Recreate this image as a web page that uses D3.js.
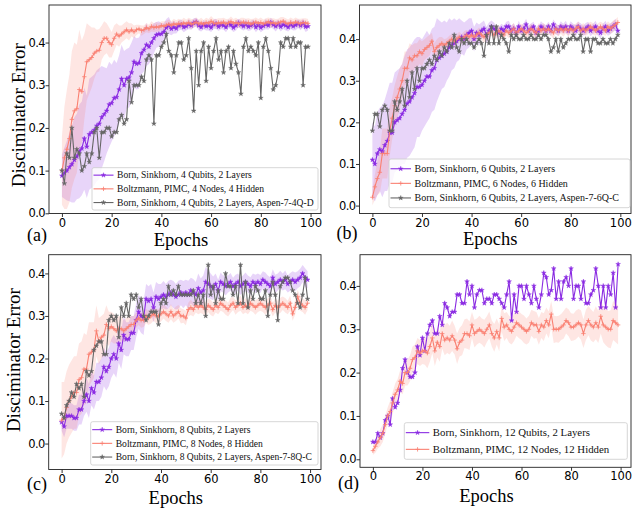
<!DOCTYPE html>
<html lang="en">
<head>
  <meta charset="UTF-8">
  <title>Discriminator error vs epochs</title>
  <style>
    body { margin: 0; background: #fff; }
    svg { display: block; }
  </style>
</head>
<body>

  <svg id="svg" width="632" height="510"></svg>

  <script src="https://d3js.org/d3.v7.min.js"></script>
  <script>
    // ---------------- data ----------------
    const xTicks = [0, 20, 40, 60, 80, 100]
    const yTicks = [0.0, 0.1, 0.2, 0.3, 0.4]

    const legendA = ['Born, Sinkhorn, 4 Qubits, 2 Layers', 'Boltzmann, PIMC, 4 Nodes, 4 Hidden', 'Born, Sinkhorn, 4 Qubits, 2 Layers, Aspen-7-4Q-D']
    const legendB = ['Born, Sinkhorn, 6 Qubits, 2 Layers', 'Boltzmann, PIMC, 6 Nodes, 6 Hidden', 'Born, Sinkhorn, 6 Qubits, 2 Layers, Aspen-7-6Q-C']
    const legendC = ['Born, Sinkhorn, 8 Qubits, 2 Layers', 'Boltzmann, PIMC, 8 Nodes, 8 Hidden', 'Born, Sinkhorn, 8 Qubits, 2 Layers, Aspen-7-8Q-C']
    const legendD = ['Born, Sinkhorn, 12 Qubits, 2 Layers', 'Boltzmann, PIMC, 12 Nodes, 12 Hidden']

    // panel (a)
    const bornA = [
      0.088,0.094,0.100,0.108,0.115,0.125,0.133,0.145,0.152,0.175,
      0.156,0.185,0.190,0.195,0.205,0.210,0.225,0.232,0.240,0.255,
      0.258,0.270,0.272,0.290,0.315,0.300,0.315,0.318,0.330,0.355,
      0.350,0.352,0.375,0.383,0.395,0.390,0.400,0.410,0.418,0.420,
      0.420,0.425,0.435,0.440,0.432,0.436,0.433,0.440,0.442,0.436,
      0.438,0.443,0.440,0.446,0.448,0.440,0.436,0.442,0.438,0.440,
      0.435,0.443,0.444,0.437,0.442,0.440,0.436,0.444,0.441,0.435,
      0.440,0.446,0.442,0.438,0.443,0.437,0.440,0.444,0.436,0.441,
      0.435,0.439,0.443,0.440,0.447,0.442,0.438,0.444,0.437,0.442,
      0.440,0.436,0.443,0.438,0.441,0.444,0.440,0.445,0.437,0.438]
    const bornSpreadA = [
      0.05,0.06,0.07,0.08,0.09,0.10,0.10,0.11,0.11,0.12,
      0.12,0.13,0.13,0.13,0.13,0.13,0.12,0.11,0.10,0.10,
      0.09,0.09,0.08,0.08,0.08,0.08,0.07,0.07,0.07,0.06,
      0.06,0.06,0.05,0.05,0.05,0.04,0.04,0.035,0.03,0.03,
      0.025,0.02,0.02,0.02,0.015,0.015,0.012,0.012,0.012,0.012,
      0.010,0.012,0.010,0.011,0.010,0.012,0.010,0.011,0.010,0.012,
      0.010,0.011,0.012,0.010,0.011,0.010,0.012,0.010,0.011,0.010,
      0.012,0.010,0.011,0.010,0.012,0.010,0.011,0.010,0.012,0.010,
      0.011,0.010,0.012,0.010,0.011,0.010,0.012,0.010,0.011,0.010,
      0.012,0.010,0.011,0.010,0.012,0.010,0.011,0.010,0.012,0.010]
    const boltzA = [
      0.100,0.130,0.150,0.175,0.220,0.240,0.245,0.290,0.285,0.320,
      0.355,0.360,0.365,0.375,0.380,0.382,0.400,0.410,0.410,0.400,
      0.395,0.410,0.420,0.415,0.420,0.425,0.430,0.425,0.430,0.425,
      0.430,0.432,0.428,0.430,0.435,0.432,0.438,0.435,0.437,0.436,
      0.440,0.438,0.441,0.443,0.440,0.444,0.442,0.445,0.443,0.446,
      0.444,0.447,0.443,0.445,0.448,0.444,0.446,0.443,0.447,0.445,
      0.450,0.446,0.444,0.447,0.445,0.448,0.444,0.446,0.449,0.445,
      0.447,0.444,0.446,0.448,0.445,0.447,0.443,0.446,0.448,0.445,
      0.447,0.444,0.446,0.449,0.445,0.447,0.444,0.446,0.448,0.450,
      0.446,0.444,0.447,0.445,0.448,0.446,0.444,0.447,0.446,0.445]
    const boltzSpreadA = [
      0.08,0.12,0.14,0.15,0.16,0.16,0.15,0.14,0.12,0.10,
      0.09,0.08,0.07,0.06,0.05,0.05,0.04,0.04,0.035,0.035,
      0.03,0.03,0.025,0.025,0.02,0.02,0.02,0.02,0.015,0.015,
      0.012,0.010,0.012,0.010,0.011,0.010,0.012,0.010,0.011,0.010,
      0.010,0.012,0.010,0.011,0.010,0.012,0.010,0.011,0.010,0.012,
      0.010,0.011,0.012,0.010,0.011,0.010,0.012,0.010,0.011,0.010,
      0.012,0.010,0.011,0.010,0.012,0.010,0.011,0.010,0.012,0.010,
      0.011,0.010,0.012,0.010,0.011,0.010,0.012,0.010,0.011,0.010,
      0.012,0.010,0.011,0.010,0.012,0.010,0.011,0.010,0.012,0.010,
      0.011,0.010,0.012,0.010,0.011,0.010,0.012,0.010,0.011,0.010]
    const aspenA = [
      0.10,0.07,0.14,0.13,0.20,0.13,0.15,0.14,0.10,0.11,
      0.14,0.12,0.14,0.19,0.20,0.13,0.19,0.19,0.20,0.20,
      0.18,0.19,0.19,0.22,0.23,0.21,0.22,0.31,0.26,0.30,
      0.30,0.30,0.32,0.31,0.36,0.37,0.36,0.21,0.37,0.37,
      0.39,0.40,0.42,0.38,0.37,0.33,0.37,0.40,0.40,0.36,
      0.37,0.41,0.34,0.24,0.38,0.30,0.38,0.40,0.31,0.39,
      0.34,0.38,0.41,0.36,0.38,0.33,0.38,0.39,0.34,0.38,
      0.35,0.33,0.28,0.39,0.41,0.38,0.39,0.38,0.37,0.40,
      0.27,0.39,0.41,0.38,0.34,0.29,0.30,0.33,0.40,0.39,
      0.41,0.41,0.39,0.41,0.39,0.40,0.40,0.30,0.39,0.39]

    // panel (b)
    const bornB = [
      0.110,0.100,0.125,0.135,0.130,0.145,0.155,0.175,0.175,0.200,
      0.205,0.210,0.220,0.230,0.245,0.250,0.260,0.270,0.285,0.285,
      0.290,0.300,0.310,0.310,0.325,0.330,0.350,0.355,0.360,0.365,
      0.370,0.380,0.385,0.390,0.395,0.400,0.405,0.400,0.410,0.415,
      0.420,0.400,0.415,0.410,0.420,0.425,0.410,0.420,0.430,0.425,
      0.420,0.415,0.425,0.420,0.430,0.430,0.420,0.425,0.415,0.430,
      0.420,0.425,0.435,0.420,0.425,0.430,0.415,0.420,0.430,0.425,
      0.420,0.430,0.420,0.435,0.425,0.420,0.430,0.425,0.430,0.420,
      0.430,0.425,0.420,0.430,0.425,0.420,0.425,0.430,0.420,0.425,
      0.430,0.420,0.415,0.425,0.430,0.420,0.425,0.430,0.435,0.420]
    const bornSpreadB = [
      0.09,0.09,0.10,0.10,0.11,0.11,0.12,0.12,0.12,0.12,
      0.12,0.12,0.12,0.13,0.13,0.13,0.13,0.13,0.12,0.12,
      0.11,0.11,0.11,0.10,0.10,0.10,0.10,0.09,0.08,0.08,
      0.07,0.07,0.06,0.06,0.05,0.05,0.04,0.04,0.035,0.035,
      0.03,0.03,0.025,0.025,0.02,0.02,0.02,0.02,0.015,0.015,
      0.012,0.014,0.012,0.013,0.012,0.014,0.012,0.013,0.012,0.014,
      0.012,0.013,0.014,0.012,0.013,0.012,0.014,0.012,0.013,0.012,
      0.014,0.012,0.013,0.012,0.014,0.012,0.013,0.012,0.014,0.012,
      0.013,0.012,0.014,0.012,0.013,0.012,0.014,0.012,0.013,0.012,
      0.014,0.012,0.013,0.012,0.014,0.012,0.013,0.012,0.014,0.012]
    const boltzB = [
      0.020,0.045,0.065,0.080,0.125,0.125,0.125,0.180,0.210,0.240,
      0.260,0.280,0.300,0.330,0.330,0.355,0.350,0.360,0.360,0.370,
      0.365,0.375,0.380,0.385,0.395,0.370,0.380,0.385,0.390,0.385,
      0.390,0.395,0.400,0.395,0.400,0.405,0.400,0.405,0.410,0.405,
      0.410,0.405,0.410,0.415,0.410,0.405,0.410,0.415,0.420,0.410,
      0.415,0.420,0.415,0.410,0.420,0.415,0.420,0.425,0.415,0.420,
      0.425,0.420,0.415,0.420,0.425,0.420,0.415,0.425,0.420,0.425,
      0.420,0.425,0.420,0.415,0.425,0.420,0.425,0.420,0.425,0.420,
      0.425,0.420,0.425,0.430,0.420,0.425,0.420,0.425,0.430,0.425,
      0.420,0.425,0.430,0.425,0.420,0.430,0.425,0.430,0.435,0.440]
    const boltzSpreadB = [
      0.02,0.03,0.04,0.05,0.06,0.06,0.06,0.06,0.05,0.05,
      0.05,0.05,0.04,0.04,0.04,0.035,0.035,0.03,0.03,0.03,
      0.03,0.025,0.025,0.025,0.02,0.02,0.02,0.02,0.015,0.015,
      0.012,0.013,0.012,0.014,0.012,0.013,0.012,0.014,0.012,0.013,
      0.012,0.014,0.012,0.013,0.012,0.014,0.012,0.013,0.012,0.014,
      0.012,0.013,0.012,0.014,0.012,0.013,0.012,0.014,0.012,0.013,
      0.012,0.014,0.012,0.013,0.012,0.014,0.012,0.013,0.012,0.014,
      0.012,0.013,0.012,0.014,0.012,0.013,0.012,0.014,0.012,0.013,
      0.012,0.014,0.012,0.013,0.012,0.014,0.012,0.013,0.012,0.014,
      0.012,0.013,0.012,0.014,0.012,0.013,0.012,0.014,0.012,0.013]
    const aspenB = [
      0.18,0.22,0.22,0.19,0.23,0.24,0.23,0.18,0.18,0.25,
      0.23,0.25,0.28,0.24,0.30,0.26,0.32,0.28,0.33,0.30,
      0.33,0.33,0.34,0.35,0.34,0.36,0.35,0.37,0.36,0.38,
      0.37,0.39,0.38,0.41,0.38,0.37,0.40,0.39,0.40,0.39,
      0.39,0.38,0.39,0.40,0.39,0.36,0.41,0.39,0.43,0.39,
      0.43,0.39,0.41,0.40,0.39,0.37,0.41,0.40,0.41,0.40,
      0.40,0.41,0.40,0.40,0.41,0.40,0.40,0.41,0.40,0.41,
      0.41,0.40,0.37,0.38,0.40,0.37,0.40,0.38,0.39,0.40,
      0.40,0.41,0.40,0.40,0.41,0.37,0.40,0.40,0.37,0.40,
      0.40,0.39,0.39,0.40,0.39,0.39,0.40,0.39,0.40,0.41]

    // panel (c)
    const bornC = [
      0.050,0.040,0.065,0.065,0.065,0.060,0.060,0.080,0.080,0.100,
      0.115,0.100,0.130,0.120,0.145,0.145,0.155,0.180,0.170,0.180,
      0.200,0.210,0.200,0.235,0.220,0.255,0.245,0.245,0.260,0.260,
      0.290,0.310,0.300,0.295,0.340,0.335,0.340,0.320,0.345,0.340,
      0.345,0.350,0.345,0.350,0.355,0.350,0.345,0.350,0.355,0.350,
      0.355,0.350,0.360,0.355,0.350,0.365,0.355,0.360,0.380,0.375,
      0.370,0.365,0.375,0.360,0.380,0.375,0.370,0.375,0.380,0.370,
      0.375,0.380,0.370,0.375,0.380,0.375,0.370,0.380,0.375,0.380,
      0.375,0.385,0.380,0.375,0.370,0.390,0.375,0.380,0.385,0.380,
      0.385,0.375,0.380,0.385,0.380,0.385,0.390,0.400,0.390,0.385]
    const bornSpreadC = [
      0.020,0.025,0.030,0.030,0.030,0.030,0.030,0.035,0.035,0.035,
      0.040,0.040,0.040,0.040,0.045,0.045,0.045,0.045,0.045,0.045,
      0.045,0.045,0.045,0.045,0.045,0.045,0.040,0.040,0.040,0.040,
      0.040,0.040,0.040,0.040,0.035,0.035,0.035,0.035,0.035,0.035,
      0.030,0.032,0.030,0.033,0.030,0.032,0.030,0.033,0.030,0.032,
      0.030,0.033,0.030,0.032,0.030,0.035,0.033,0.035,0.035,0.033,
      0.030,0.028,0.025,0.025,0.022,0.020,0.022,0.020,0.021,0.020,
      0.022,0.020,0.021,0.020,0.022,0.020,0.021,0.020,0.022,0.020,
      0.021,0.020,0.022,0.020,0.021,0.020,0.022,0.020,0.021,0.020,
      0.022,0.020,0.021,0.020,0.022,0.020,0.021,0.020,0.022,0.020]
    const boltzC = [
      0.055,0.060,0.085,0.100,0.110,0.120,0.120,0.150,0.155,0.175,
      0.175,0.210,0.215,0.220,0.265,0.240,0.250,0.255,0.280,0.270,
      0.275,0.270,0.265,0.270,0.270,0.265,0.270,0.275,0.280,0.280,
      0.290,0.295,0.290,0.290,0.300,0.295,0.300,0.305,0.300,0.300,
      0.305,0.310,0.305,0.300,0.310,0.300,0.305,0.310,0.300,0.300,
      0.295,0.315,0.320,0.315,0.325,0.320,0.325,0.320,0.315,0.325,
      0.320,0.315,0.325,0.320,0.330,0.325,0.320,0.315,0.325,0.330,
      0.320,0.325,0.330,0.320,0.325,0.320,0.330,0.325,0.320,0.325,
      0.330,0.325,0.320,0.325,0.330,0.315,0.325,0.320,0.325,0.330,
      0.325,0.320,0.330,0.305,0.320,0.345,0.330,0.325,0.320,0.330]
    const boltzSpreadC = [
      0.090,0.085,0.085,0.085,0.085,0.085,0.085,0.085,0.085,0.085,
      0.080,0.075,0.070,0.065,0.060,0.055,0.050,0.050,0.045,0.040,
      0.035,0.035,0.030,0.030,0.030,0.025,0.025,0.025,0.020,0.020,
      0.018,0.016,0.018,0.016,0.017,0.016,0.018,0.016,0.017,0.016,
      0.018,0.016,0.017,0.016,0.018,0.016,0.017,0.016,0.018,0.016,
      0.017,0.016,0.018,0.016,0.017,0.016,0.018,0.016,0.017,0.016,
      0.018,0.016,0.017,0.016,0.018,0.016,0.017,0.016,0.018,0.016,
      0.017,0.016,0.018,0.016,0.017,0.016,0.018,0.016,0.017,0.016,
      0.018,0.016,0.017,0.016,0.018,0.016,0.017,0.016,0.018,0.016,
      0.017,0.016,0.018,0.016,0.017,0.016,0.018,0.016,0.017,0.016]
    const aspenC = [
      0.07,0.06,0.09,0.10,0.12,0.11,0.14,0.13,0.14,0.11,
      0.17,0.16,0.17,0.22,0.23,0.24,0.24,0.21,0.21,0.29,
      0.30,0.29,0.30,0.25,0.32,0.30,0.33,0.30,0.35,0.34,
      0.35,0.32,0.34,0.30,0.29,0.30,0.31,0.31,0.31,0.28,
      0.33,0.34,0.33,0.37,0.35,0.36,0.35,0.37,0.35,0.35,
      0.35,0.35,0.35,0.36,0.33,0.35,0.33,0.35,0.30,0.42,
      0.35,0.37,0.33,0.36,0.34,0.34,0.40,0.37,0.37,0.35,
      0.37,0.33,0.42,0.33,0.38,0.32,0.36,0.34,0.37,0.36,
      0.34,0.34,0.36,0.30,0.35,0.38,0.35,0.29,0.37,0.38,
      0.39,0.39,0.38,0.36,0.35,0.33,0.32,0.35,0.39,0.34]

    // panel (d)
    const bornD = [
      0.04,0.04,0.06,0.05,0.06,0.09,0.10,0.08,0.14,0.12,
      0.13,0.16,0.21,0.23,0.20,0.19,0.19,0.20,0.26,0.24,
      0.28,0.25,0.29,0.31,0.32,0.29,0.29,0.33,0.31,0.36,
      0.35,0.33,0.34,0.34,0.38,0.38,0.36,0.36,0.41,0.38,
      0.40,0.35,0.38,0.39,0.39,0.36,0.37,0.37,0.36,0.38,
      0.38,0.37,0.36,0.35,0.38,0.41,0.32,0.38,0.34,0.40,
      0.40,0.37,0.40,0.38,0.36,0.40,0.37,0.35,0.38,0.43,
      0.42,0.38,0.39,0.44,0.37,0.41,0.37,0.41,0.42,0.40,
      0.44,0.37,0.40,0.40,0.37,0.41,0.36,0.36,0.38,0.39,
      0.44,0.40,0.35,0.40,0.35,0.40,0.38,0.43,0.35,0.45]
    const boltzD = [
      0.020,0.030,0.040,0.050,0.060,0.080,0.100,0.110,0.130,0.150,
      0.160,0.180,0.175,0.200,0.200,0.210,0.230,0.235,0.250,0.245,
      0.250,0.250,0.245,0.260,0.280,0.250,0.270,0.260,0.290,0.275,
      0.280,0.275,0.285,0.275,0.255,0.270,0.275,0.290,0.290,0.285,
      0.310,0.290,0.295,0.300,0.295,0.290,0.300,0.310,0.290,0.280,
      0.295,0.280,0.325,0.305,0.310,0.300,0.295,0.305,0.315,0.310,
      0.305,0.300,0.295,0.300,0.315,0.310,0.310,0.295,0.310,0.305,
      0.320,0.310,0.335,0.300,0.300,0.300,0.305,0.310,0.320,0.315,
      0.305,0.305,0.310,0.315,0.310,0.290,0.310,0.320,0.310,0.305,
      0.315,0.305,0.330,0.310,0.305,0.300,0.300,0.320,0.315,0.310]
    const boltzSpreadD = [
      0.010,0.015,0.015,0.020,0.020,0.020,0.020,0.025,0.025,0.025,
      0.025,0.025,0.025,0.030,0.030,0.030,0.030,0.030,0.030,0.030,
      0.030,0.032,0.035,0.035,0.035,0.035,0.035,0.035,0.035,0.035,
      0.035,0.033,0.035,0.033,0.035,0.033,0.035,0.033,0.035,0.033,
      0.030,0.032,0.030,0.031,0.030,0.032,0.030,0.031,0.030,0.032,
      0.030,0.031,0.030,0.032,0.030,0.031,0.030,0.032,0.030,0.031,
      0.030,0.032,0.030,0.031,0.030,0.032,0.030,0.031,0.030,0.032,
      0.030,0.031,0.030,0.032,0.030,0.031,0.030,0.032,0.030,0.031,
      0.032,0.031,0.033,0.032,0.034,0.033,0.035,0.034,0.036,0.035,
      0.038,0.037,0.040,0.040,0.042,0.042,0.044,0.045,0.045,0.045]

    // ---------------- styles ----------------
    const PURPLE = '#8a2be2'
    const SALMON = '#fa8072'
    const GRAY = '#666666'
    const SERIF = '"Liberation Serif", "DejaVu Serif", serif'
    const SANS = '"DejaVu Sans", sans-serif'

    const svg = d3.select('#svg')

    const starPath = d3.symbol(d3.symbolStar, 7)()
    const plusPath = 'M-2.2,0H2.2M0,-2.2V2.2'

    function styleMarker(sel, kind, color) {
      if (kind === 'star') {
        sel.attr('d', starPath).attr('fill', color).attr('stroke', color).attr('stroke-width', 0.4)
      } else {
        sel.attr('d', plusPath).attr('fill', 'none').attr('stroke', color).attr('stroke-width', 0.8)
      }
    }

    function drawPanel(p) {
      const x = d3.scaleLinear().domain(p.xDomain).range([p.left, p.right])
      const y = d3.scaleLinear().domain(p.yDomain).range([p.bottom, p.top])
      const g = svg.append('g')

      g.append('clipPath').attr('id', 'clip-' + p.id)
        .append('rect')
        .attr('x', p.left).attr('y', p.top)
        .attr('width', p.right - p.left).attr('height', p.bottom - p.top)

      const plot = g.append('g').attr('clip-path', `url(#clip-${p.id})`)

      // shaded bands
      p.series.filter(s => s.spread).forEach(s => {
        const area = d3.area()
          .x((d, i) => x(i))
          .y0((d, i) => y(d - s.spread[i]))
          .y1((d, i) => y(d + s.spread[i]))
        plot.append('path')
          .attr('d', area(s.values))
          .attr('fill', s.color)
          .attr('fill-opacity', 0.2)
      })

      // lines + markers
      p.series.forEach(s => {
        const line = d3.line().x((d, i) => x(i)).y(d => y(d))
        plot.append('path')
          .attr('d', line(s.values))
          .attr('fill', 'none')
          .attr('stroke', s.color)
          .attr('stroke-width', 1.1)
        plot.append('g')
          .selectAll('path')
          .data(s.values)
          .enter()
          .append('path')
          .attr('transform', (d, i) => `translate(${x(i)},${y(d)})`)
          .call(styleMarker, s.marker, s.color)
      })

      // axes
      const xAxis = g.append('g')
        .attr('transform', `translate(0,${p.bottom})`)
        .call(d3.axisBottom(x).tickValues(xTicks).tickFormat(d3.format('d')).tickSize(3.5).tickPadding(1.5))
      const yAxis = g.append('g')
        .attr('transform', `translate(${p.left},0)`)
        .call(d3.axisLeft(y).tickValues(yTicks).tickFormat(d3.format('.1f')).tickSize(3.5).tickPadding(0.5))
      ;[xAxis, yAxis].forEach(a => {
        a.select('.domain').remove()
        a.selectAll('line').attr('stroke', '#000').attr('stroke-width', 0.8)
        a.selectAll('text')
          .style('font-family', SANS)
          .style('font-size', '11.5px')
          .attr('fill', '#000')
      })
      yAxis.selectAll('text').attr('letter-spacing', '-0.6')

      // frame
      g.append('rect')
        .attr('x', p.left).attr('y', p.top)
        .attr('width', p.right - p.left).attr('height', p.bottom - p.top)
        .attr('fill', 'none')
        .attr('stroke', '#222')
        .attr('stroke-width', 0.9)

      // legend
      const L = p.legend
      const lg = g.append('g')
      lg.append('rect')
        .attr('x', L.left).attr('y', L.top)
        .attr('width', L.right - L.left).attr('height', L.bottom - L.top)
        .attr('rx', 2)
        .attr('fill', '#fff').attr('fill-opacity', 0.8)
        .attr('stroke', '#cccccc').attr('stroke-width', 0.8)
      const n = p.series.length
      const pad = ((L.bottom - L.top) - (n - 1) * L.row) / 2
      p.series.forEach((s, i) => {
        const cy = L.top + pad + i * L.row
        lg.append('line')
          .attr('x1', L.left + 1.5).attr('x2', L.left + 1.5 + L.lineLen)
          .attr('y1', cy).attr('y2', cy)
          .attr('stroke', s.color).attr('stroke-width', 1.1)
        lg.append('path')
          .attr('transform', `translate(${L.left + 1.5 + L.lineLen / 2},${cy})`)
          .call(styleMarker, s.marker, s.color)
        lg.append('text')
          .attr('x', L.left + L.lineLen + 5)
          .attr('y', cy)
          .attr('dy', '0.33em')
          .style('font-family', SERIF)
          .style('font-size', L.fontSize + 'px')
          .attr('fill', '#111')
          .text(p.labels[i])
      })

      // axis titles and panel tag
      g.append('text')
        .attr('x', (p.left + p.right) / 2 + p.xTitleShift)
        .attr('y', p.xTitleY)
        .attr('text-anchor', 'middle')
        .style('font-family', SERIF)
        .style('font-size', '18.5px')
        .text('Epochs')

      if (p.yTitleX) {
        g.append('text')
          .attr('transform', `translate(${p.yTitleX},${(p.top + p.bottom) / 2 + p.yTitleShift}) rotate(-90)`)
          .attr('text-anchor', 'middle')
          .style('font-family', SERIF)
          .style('font-size', '19px')
          .text('Disciminator Error')
      }

      g.append('text')
        .attr('x', p.tagX).attr('y', p.tagY)
        .style('font-family', SERIF)
        .style('font-size', '18px')
        .text(p.tag)
    }

    const panels = [
      {
        id: 'a', tag: '(a)', tagX: 27, tagY: 241,
        left: 49, right: 321, top: 5, bottom: 213.5,
        xDomain: [-5.2, 104.2], yDomain: [-0.0005, 0.488],
        xTitleY: 245.5, xTitleShift: -4, yTitleX: 25, yTitleShift: 6,
        labels: legendA,
        legend: { left: 92, right: 318, top: 167.7, bottom: 210, row: 13.7, lineLen: 20, fontSize: 9.6 },
        series: [
          { values: bornA, spread: bornSpreadA, color: PURPLE, marker: 'star' },
          { values: boltzA, spread: boltzSpreadA, color: SALMON, marker: 'plus' },
          { values: aspenA, color: GRAY, marker: 'star' }
        ]
      },
      {
        id: 'b', tag: '(b)', tagX: 336.5, tagY: 239,
        left: 359.5, right: 631, top: 5, bottom: 213.5,
        xDomain: [-5.2, 104.3], yDomain: [-0.019, 0.482],
        xTitleY: 244.5, xTitleShift: -5,
        labels: legendB,
        legend: { left: 389, right: 630, top: 159, bottom: 207.7, row: 14.6, lineLen: 20.5, fontSize: 10 },
        series: [
          { values: bornB, spread: bornSpreadB, color: PURPLE, marker: 'star' },
          { values: boltzB, spread: boltzSpreadB, color: SALMON, marker: 'plus' },
          { values: aspenB, color: GRAY, marker: 'star' }
        ]
      },
      {
        id: 'c', tag: '(c)', tagX: 27, tagY: 490,
        left: 48.7, right: 321, top: 254.7, bottom: 469.5,
        xDomain: [-5.2, 104.4], yDomain: [-0.061, 0.444],
        xTitleY: 504, xTitleShift: -9, yTitleX: 20, yTitleShift: -2,
        labels: legendC,
        legend: { left: 90.7, right: 318, top: 421.7, bottom: 465, row: 13.7, lineLen: 20, fontSize: 9.6 },
        series: [
          { values: bornC, spread: bornSpreadC, color: PURPLE, marker: 'star' },
          { values: boltzC, spread: boltzSpreadC, color: SALMON, marker: 'plus' },
          { values: aspenC, color: GRAY, marker: 'star' }
        ]
      },
      {
        id: 'd', tag: '(d)', tagX: 338, tagY: 489,
        left: 360, right: 631, top: 254.7, bottom: 467.3,
        xDomain: [-5.2, 104.2], yDomain: [-0.0185, 0.472],
        xTitleY: 502, xTitleShift: -9,
        labels: legendD,
        legend: { left: 404.3, right: 627.3, top: 422.7, bottom: 459.3, row: 16.7, lineLen: 23.5, fontSize: 10.8 },
        series: [
          { values: bornD, color: PURPLE, marker: 'star' },
          { values: boltzD, spread: boltzSpreadD, color: SALMON, marker: 'plus' }
        ]
      }
    ]

    panels.forEach(drawPanel)
  </script>
</body>
</html>
